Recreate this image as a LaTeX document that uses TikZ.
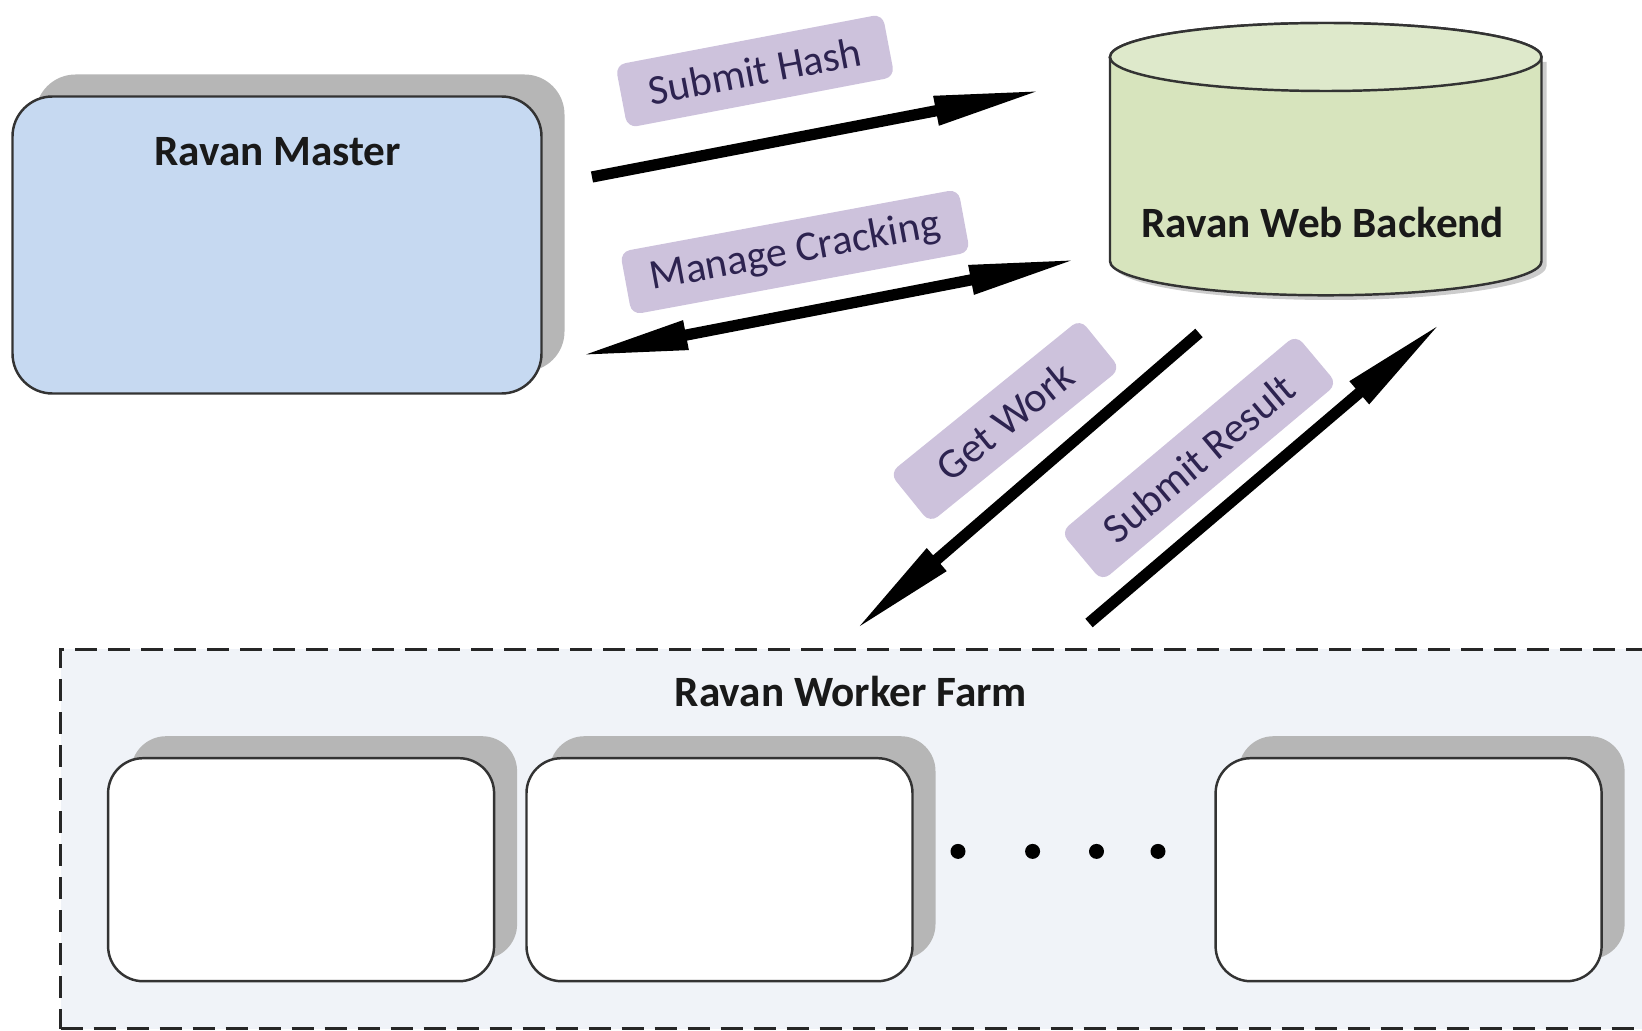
\documentclass[tikz,border=0pt]{standalone}
\usepackage{fontspec}
\setmainfont{Carlito}
\usepackage{tikz}
\usetikzlibrary{arrows.meta, shadows, positioning}
\definecolor{masterblue}{RGB}{198,217,241}
\definecolor{webgreen}{RGB}{215,228,189}
\definecolor{webtop}{RGB}{222,233,203}
\definecolor{tagpurple}{RGB}{205,194,220}
\definecolor{tagtext}{RGB}{45,35,80}
\definecolor{farmbg}{RGB}{240,243,248}
\definecolor{shadowgray}{RGB}{182,182,182}

\begin{document}
\begin{tikzpicture}[
    hostbox/.style={rectangle, rounded corners=0.4cm, draw=black!80, line width=0.7pt,
        drop shadow={shadow xshift=0.23cm, shadow yshift=0.22cm, fill=shadowgray, opacity=1}},
    workbox/.style={hostbox, fill=white, rounded corners=0.35cm, minimum width=3.86cm, minimum height=2.23cm},
    title/.style={font=\bfseries\fontsize{12.3}{14}\selectfont, text=black!90},
    tag/.style={rectangle, rounded corners=0.1cm, fill=tagpurple, minimum height=0.64cm,
        text=tagtext, font=\fontsize{12}{14}\selectfont},
    flow/.style={line width=3.2pt, -{Triangle[length=11mm, width=2.7mm]}},
    dot/.style={circle, fill=black, inner sep=0pt, minimum size=0.15cm}
]
    \useasboundingbox (0,0) rectangle (16.42,-10.31);
    \clip (0,0) rectangle (16.42,-10.31);

    % Master
    \node[hostbox, fill=masterblue, minimum width=5.29cm, minimum height=2.97cm] (master) at (2.77,-2.45) {};
    \node[title] (mastertitle) at (2.775,-1.52) {Ravan Master};

    % Web backend (cylinder)
    \fill[shadowgray, opacity=0.7] (11.15,-0.62) -- (11.15,-2.66) arc[start angle=180, end angle=360, x radius=2.1575, y radius=0.34] -- (15.465,-0.62) -- cycle;
    \filldraw[fill=webgreen, draw=black!80, line width=0.7pt] (11.10,-0.57) -- (11.10,-2.613) arc[start angle=180, end angle=360, x radius=2.1575, y radius=0.34] -- (15.415,-0.57) arc[start angle=0, end angle=180, x radius=2.1575, y radius=0.34] -- cycle;
    \filldraw[fill=webtop, draw=black!80, line width=0.7pt] (13.2575,-0.57) ellipse[x radius=2.1575, y radius=0.34];
    \node[title] (web) at (13.226,-2.22) {Ravan Web Backend};

    % Worker farm
    \node[rectangle, draw=black!85, dashed, dash pattern=on 2.2mm off 1.1mm, line width=0.8pt, fill=farmbg,
        minimum width=16.6cm, minimum height=3.79cm] (farm) at (8.907,-8.39) {};
    \node[title] (farmtitle) at (8.51,-6.91) {Ravan Worker Farm};

    % Workers
    \node[workbox] (workA) at (3.011,-8.697) {};
    \node[workbox] (workB) at (7.195,-8.697) {};
    \node[workbox] (workC) at (14.086,-8.697) {};

    % Dots
    \node[dot] (dotA) at (9.58,-8.514) {};
    \node[dot] (dotB) at (10.326,-8.514) {};
    \node[dot] (dotC) at (10.965,-8.514) {};
    \node[dot] (dotD) at (11.58,-8.514) {};

    % Arrow ends
    \coordinate (hashS) at (5.92,-1.77);
    \coordinate (hashE) at (10.44,-0.90);
    \coordinate (manageS) at (5.78,-3.56);
    \coordinate (manageE) at (10.79,-2.59);
    \coordinate (workS) at (11.99,-3.33);
    \coordinate (workE) at (8.535,-6.315);
    \coordinate (resultS) at (10.89,-6.23);
    \coordinate (resultE) at (14.43,-3.215);

    % Arrows
    \draw[flow] (hashS) -- (hashE);
    \draw[flow, {Triangle[length=11mm, width=2.7mm]}-{Triangle[length=11mm, width=2.7mm]}] (manageS) -- (manageE);
    \draw[flow] (workS) -- (workE);
    \draw[flow] (resultS) -- (resultE);

    % Labels
    \node[tag, rotate=10.8, minimum width=2.72cm] (hashtag) at (7.55,-0.71) {Submit Hash};
    \node[tag, rotate=10.5, minimum width=3.44cm] (managetag) at (7.95,-2.52) {Manage Cracking};
    \node[tag, rotate=39, minimum width=2.45cm] (worktag) at (10.05,-4.21) {Get Work};
    \node[tag, rotate=40, minimum width=3.07cm] (resulttag) at (11.99,-4.58) {Submit Result};
\end{tikzpicture}
\end{document}
